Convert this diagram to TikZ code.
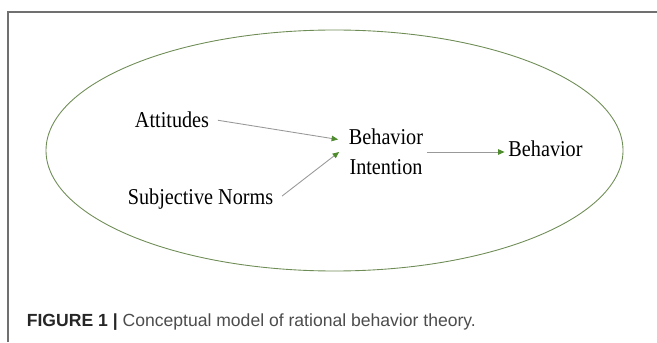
\documentclass[tikz,border=0pt]{standalone}
\usepackage{fontspec}
\setmainfont{Liberation Serif}
\newfontfamily\capfont{Liberation Sans}
\usetikzlibrary{arrows.meta}
\usetikzlibrary{positioning,shapes}
\usepackage{xcolor}
\definecolor{ovalgreen}{HTML}{6E8C55}
\definecolor{tipgreen}{HTML}{4E8A2E}
\definecolor{framegray}{HTML}{707070}

\begin{document}
\begin{tikzpicture}[
    label/.style={font=\fontsize{11.5}{15}\selectfont, text=black, inner sep=2pt, yscale=1.12, transform shape},
    arr/.style={draw=black!40, line width=0.5pt, -{Triangle[length=0.13cm, width=0.11cm, color=tipgreen]}}]
      \useasboundingbox (0,0) rectangle (13.14,6.84);
      \draw[color=framegray, line width=0.8pt] (0.16,0) -- (0.16,6.6) -- (13.14,6.6);
      \draw[color=ovalgreen, line width=0.5pt] (6.69,3.83) ellipse (5.77cm and 2.41cm);
      \node[label, anchor=base] (att) at (3.44,4.28) {Attitudes};
      \node[label, anchor=base] (sn) at (4.01,2.76) {Subjective Norms};
      \node[label, align=center] (bi) at (7.72,3.80) {Behavior\\Intention};
      \node[label, anchor=base] (beh) at (10.91,3.70) {Behavior};
      \draw[arr] ([xshift=0.1cm]att.east) -- ([xshift=-0.14cm, yshift=0.25cm]bi.west);
      \draw[arr] ([xshift=0.1cm, yshift=0.05cm]sn.east) -- ([xshift=-0.12cm, yshift=0.0cm]bi.west);
      \draw[arr] (bi.east) -- (beh.west |- bi.east);
      \node[anchor=base west, inner sep=0pt, font=\capfont\fontsize{10}{12}\selectfont] (cap) at (0.53,0.31)
        {\textcolor{black!85}{\textbf{FIGURE 1 |}} \textcolor{black!70}{Conceptual model of rational behavior theory.}};
\end{tikzpicture}
\end{document}
